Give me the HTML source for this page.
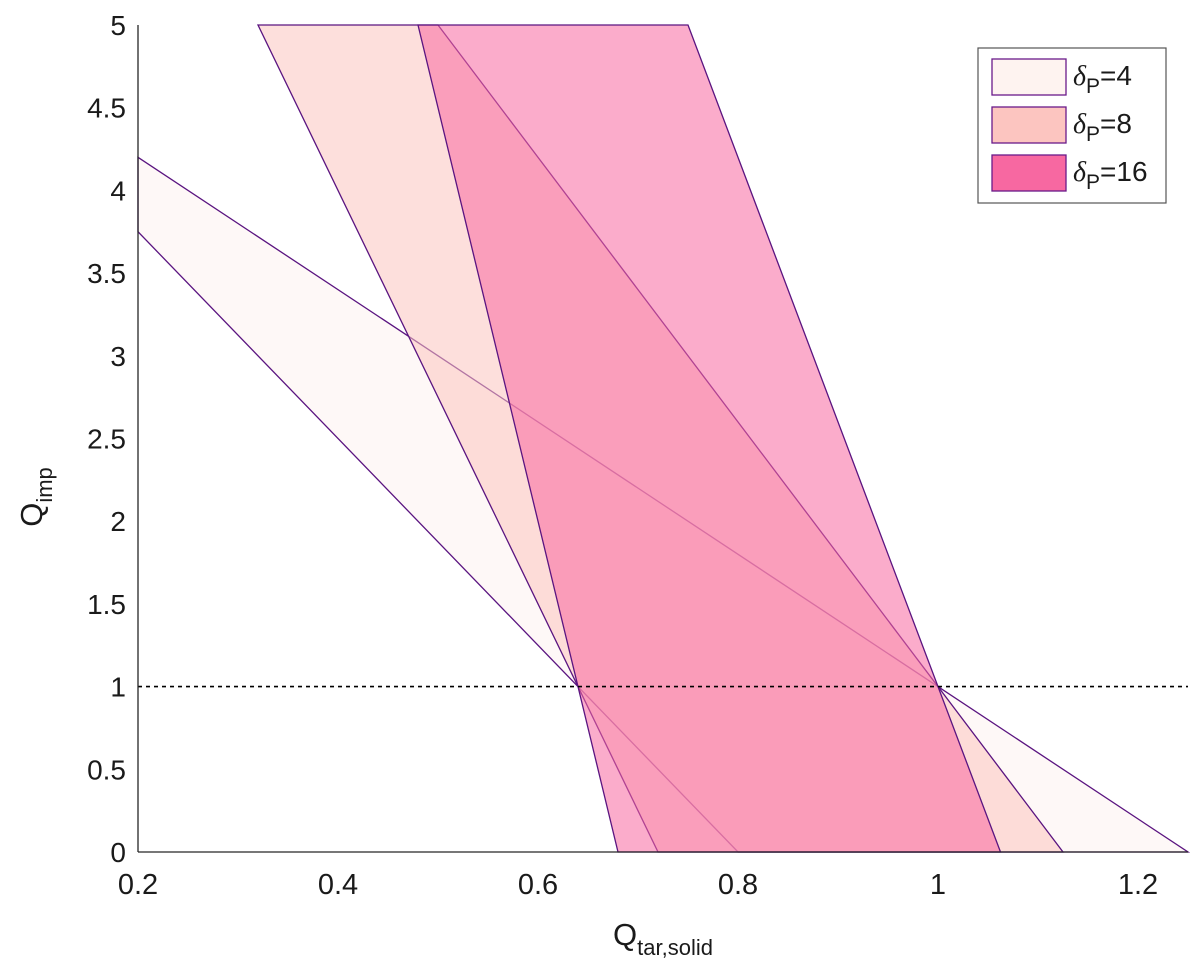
<!DOCTYPE html>
<html><head><meta charset="utf-8"><style>
body{margin:0;background:#fff}
svg text{font-family:"Liberation Sans",sans-serif;fill:#1a1a1a}
</style></head><body>
<svg width="1200" height="972">
<g id="regions"></g>
<line x1="138" x2="1188" y1="687" y2="687" stroke="#000" stroke-width="1.6" stroke-dasharray="4,4" id="refline"/>
<g id="axes"></g>
<text x="663" y="945" font-size="31" text-anchor="middle">Q<tspan font-size="22" dy="10">tar,solid</tspan></text>
<text transform="translate(42,497) rotate(-90)" font-size="31" text-anchor="middle">Q<tspan font-size="22" dy="10">imp</tspan></text>
<g>
<rect x="978" y="48" width="188" height="155" fill="#fff" stroke="#555" stroke-width="1.2"/>
<g id="legend"></g>
</g>
</svg>
<script>
const X0=0.2,X1=1.25,Y0=0,Y1=5;
const sx=v=>138+(v-X0)/(X1-X0)*1050;
const sy=v=>852-(v-Y0)/(Y1-Y0)*827;
const seriesNames=["δP=4","δP=8","δP=16"];
const deltas=["4","8","16"];
const fills=["#fef3f0","#fcc5c0","#f768a1"];
const xs4=[0.2,1.25,0.8,0.2];
const ys4=[4.2,0,0,3.75];
const xs8=[0.32,0.5,1.125,0.72];
const ys8=[5,5,0,0];
const xs16=[0.48,0.75,1.0625,0.68];
const ys16=[5,5,0,0];
const xTicks=[0.2,0.4,0.6,0.8,1,1.2];
const xTickLabels=["0.2","0.4","0.6","0.8","1","1.2"];
const yTicks=[0,0.5,1,1.5,2,2.5,3,3.5,4,4.5,5];
const yTickLabels=["0","0.5","1","1.5","2","2.5","3","3.5","4","4.5","5"];
const refY=1;
const NS="http://www.w3.org/2000/svg";
const g=document.getElementById('regions');
const polys=[[xs4,ys4],[xs8,ys8],[xs16,ys16]];
polys.forEach((p,i)=>{
 const el=document.createElementNS(NS,'polygon');
 el.setAttribute('points',p[0].map((x,j)=>sx(x)+','+sy(p[1][j])).join(' '));
 el.setAttribute('fill',fills[i]);el.setAttribute('fill-opacity','0.55');
 el.setAttribute('stroke','#5a1480');el.setAttribute('stroke-width','1.3');
 
 
 g.appendChild(el);
});
const rl=document.getElementById('refline');
rl.setAttribute('y1',sy(refY));rl.setAttribute('y2',sy(refY));
const ax=document.getElementById('axes');
ax.innerHTML='<line x1="138" y1="25" x2="138" y2="852" stroke="#262626" stroke-width="1.3"/><line x1="138" y1="852" x2="1188" y2="852" stroke="#262626" stroke-width="1.3"/>';
xTicks.forEach((t,i)=>{
 const tx=document.createElementNS(NS,'text');
 tx.setAttribute('x',sx(t));tx.setAttribute('y',894);tx.setAttribute('font-size','29');tx.setAttribute('text-anchor','middle');
 tx.textContent=xTickLabels[i];
 
 
 ax.appendChild(tx);
});
yTicks.forEach((t,i)=>{
 const tx=document.createElementNS(NS,'text');
 tx.setAttribute('x',126);tx.setAttribute('y',sy(t)+10);tx.setAttribute('font-size','28');tx.setAttribute('text-anchor','end');
 tx.textContent=yTickLabels[i];
 
 
 ax.appendChild(tx);
});
const lg=document.getElementById('legend');
deltas.forEach((d,i)=>{
 const y=59+i*48;
 const r=document.createElementNS(NS,'rect');
 r.setAttribute('x',992);r.setAttribute('y',y);r.setAttribute('width',74);r.setAttribute('height',36);
 r.setAttribute('fill',fills[i]);r.setAttribute('stroke','#6a1a8a');r.setAttribute('stroke-width','1.3');
 
 
 lg.appendChild(r);
 const t=document.createElementNS(NS,'text');
 t.setAttribute('x',1073);t.setAttribute('y',y+26);t.setAttribute('font-size','28');
 t.innerHTML='<tspan font-family="Liberation Serif" font-style="italic">δ</tspan><tspan font-size="21" dy="8">P</tspan><tspan dy="-8">='+d+'</tspan>';
 
 
 lg.appendChild(t);
});
</script>
</body></html>
